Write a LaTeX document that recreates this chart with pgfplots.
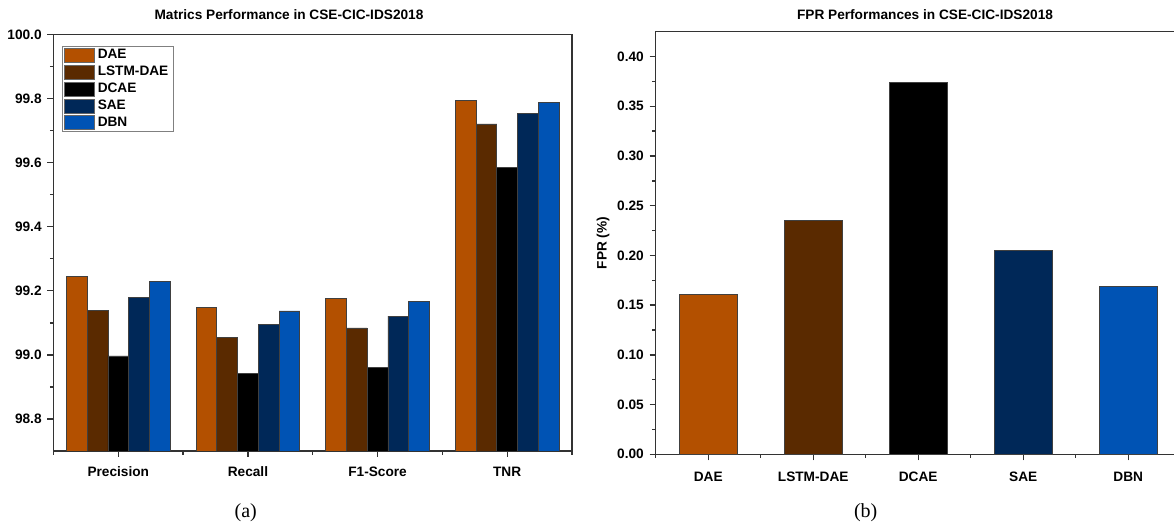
\documentclass[border=0pt]{standalone}
\usepackage{fontspec}
\setmainfont{Liberation Sans}
\newfontfamily\seriffont{Liberation Serif}
\usepackage{pgfplots}
\pgfplotsset{compat=1.18}
\definecolor{cDAE}{RGB}{179,80,0}
\definecolor{cLSTM}{RGB}{90,42,0}
\definecolor{cDCAE}{RGB}{0,0,0}
\definecolor{cSAE}{RGB}{0,40,88}
\definecolor{cDBN}{RGB}{0,83,180}
\newcommand\lblfont{\bfseries\fontsize{8.2}{9.5}\selectfont}
\begin{document}
\begin{tikzpicture}
\path[use as bounding box] (0,0) rectangle (704.4pt,315.6pt);
\pgfplotsset{
 common/.style={
  scale only axis,
  axis line style={line width=0.9pt, black!80},
  tick style={line width=0.8pt, black!80},
  tick align=outside,
  tick pos=left,
  major tick length=3.6pt,
  minor tick length=2.2pt,
  ticklabel style={font=\lblfont},
  /pgf/number format/assume math mode=true,
  ybar,
  every axis plot/.append style={draw=black!75, line width=0.4pt},
 }
}
\begin{axis}[common, at={(32.1pt,294.9pt)}, anchor=north west,
 width=311.1pt, height=249.9pt,
 xmin=-0.5, xmax=3.5, ymin=98.7, ymax=100.0,
 xtick={0,1,2,3}, xticklabels={Precision,Recall,F1-Score,TNR},
 xticklabel style={yshift=-2.4pt},
 minor xtick={-0.5,0.5,1.5,2.5,3.5},
 ytick={98.8,99.0,99.2,99.4,99.6,99.8,100.0},
 minor ytick={98.9,99.1,99.3,99.5,99.7,99.9},
 yticklabel style={/pgf/number format/fixed, /pgf/number format/fixed zerofill, /pgf/number format/precision=1},
 bar width=0.16,
 legend style={at={(0.0164,0.9724)}, anchor=north west, draw=black!50, line width=0.5pt,
   fill=white, font=\lblfont, inner xsep=1.2pt, inner ysep=1pt, row sep=1.3pt,
   nodes={font=\lblfont, inner xsep=1.6pt, inner ysep=0.6pt},
   cells={anchor=west}},
 legend image code/.code={\draw[#1, draw=black!60] (0pt,-4.2pt) rectangle (18pt,4.2pt);},
]
\addplot[fill=cDAE, bar shift=-0.32] coordinates {(0,99.244) (1,99.149) (2,99.177) (3,99.794)};
\addlegendentry{DAE}
\addplot[fill=cLSTM, bar shift=-0.16] coordinates {(0,99.139) (1,99.055) (2,99.084) (3,99.721)};
\addlegendentry{LSTM-DAE}
\addplot[fill=cDCAE, bar shift=0] coordinates {(0,98.997) (1,98.943) (2,98.961) (3,99.585)};
\addlegendentry{DCAE}
\addplot[fill=cSAE, bar shift=0.16] coordinates {(0,99.180) (1,99.094) (2,99.121) (3,99.753)};
\addlegendentry{SAE}
\addplot[fill=cDBN, bar shift=0.32] coordinates {(0,99.230) (1,99.137) (2,99.167) (3,99.789)};
\addlegendentry{DBN}
\end{axis}
\begin{axis}[common, at={(393.42pt,296.58pt)}, anchor=north west,
 width=315pt, height=253.56pt,
 xmin=-0.5, xmax=4.5, ymin=0, ymax=0.425,
 xtick={0,1,2,3,4}, xticklabels={DAE,LSTM-DAE,DCAE,SAE,DBN},
 xticklabel style={yshift=-3.4pt},
 minor xtick={-0.5,0.5,1.5,2.5,3.5,4.5},
 ytick={0,0.05,0.10,0.15,0.20,0.25,0.30,0.35,0.40},
 minor ytick={0.025,0.075,0.125,0.175,0.225,0.275,0.325,0.375},
 yticklabel style={/pgf/number format/fixed, /pgf/number format/fixed zerofill, /pgf/number format/precision=2},
 bar width=0.55,
]
\addplot[fill=cDAE, bar shift=0] coordinates {(0,0.1613)};
\addplot[fill=cLSTM, bar shift=0] coordinates {(1,0.2350)};
\addplot[fill=cDCAE, bar shift=0] coordinates {(2,0.3742)};
\addplot[fill=cSAE, bar shift=0] coordinates {(3,0.2055)};
\addplot[fill=cDBN, bar shift=0] coordinates {(4,0.1693)};
\end{axis}
\node[font=\lblfont] at ({289*0.6pt},{(526-15)*0.6pt}) {Matrics Performance in CSE-CIC-IDS2018};
\node[font=\lblfont] at ({925*0.6pt},{(526-15)*0.6pt}) {FPR Performances in CSE-CIC-IDS2018};
\node[font=\lblfont, rotate=90] at ({603*0.6pt},{(526-243)*0.6pt}) {FPR (\%)};
\node[font=\seriffont\fontsize{12}{14}\selectfont] at ({245.7*0.6pt},{(526-513)*0.6pt}) {(a)};
\node[font=\seriffont\fontsize{12}{14}\selectfont] at ({865.7*0.6pt},{(526-513)*0.6pt}) {(b)};
\end{tikzpicture}
\end{document}
